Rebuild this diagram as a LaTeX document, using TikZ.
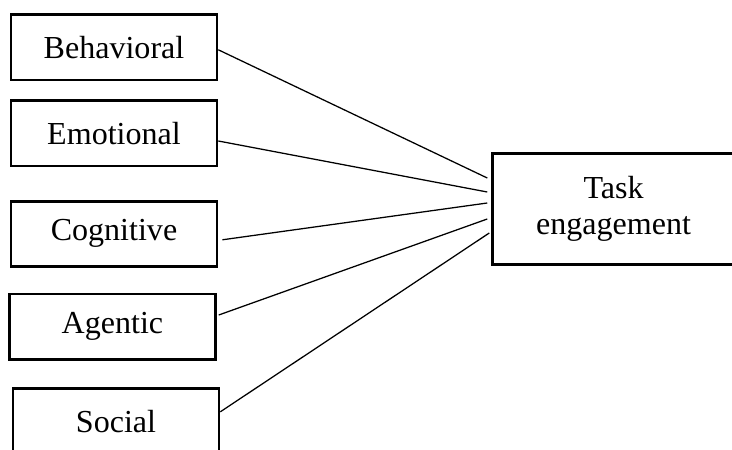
\documentclass[tikz,border=0pt]{standalone}
\usepackage{fontspec}
\setmainfont{Liberation Serif}
\begin{document}
\begin{tikzpicture}[
		dim/.style={rectangle,draw=black,line width=1.9pt,minimum width=5.15cm,minimum height=1.63cm,inner sep=0pt,font=\fontsize{22.8}{25.6}\selectfont},
		link/.style={line width=0.9pt}]
		\useasboundingbox (0,0) rectangle (18.3,11.225);
		\node[dim] (beh) at (2.85,10.04) {Behavioral};
		\node[dim] (emo) at (2.85,7.89) {Emotional};
		\node[dim] (cog) at (2.85,5.38) {Cognitive};
		\node[dim] (age) at (2.81,3.06) {Agentic};
		\node[dim] (soc) at (2.90,0.69) {Social};
		\node[dim,minimum width=6.05cm,minimum height=2.76cm,align=center] (task) at (15.34,6.0) {\rule{0pt}{0.3cm}Task\\engagement};
		% end points just left of the outcome box
		\coordinate (t1) at ([xshift=-0.1cm,yshift=0.775cm]task.west);
		\coordinate (t2) at ([xshift=-0.1cm,yshift=0.425cm]task.west);
		\coordinate (t3) at ([xshift=-0.1cm,yshift=0.15cm]task.west);
		\coordinate (t4) at ([xshift=-0.1cm,yshift=-0.25cm]task.west);
		\coordinate (t5) at ([xshift=-0.05cm,yshift=-0.6cm]task.west);
		\draw[link] ([yshift=-0.06cm]beh.east) -- (t1);
		\draw[link] ([yshift=-0.19cm]emo.east) -- (t2);
		\draw[link] ([xshift=0.1cm,yshift=-0.15cm]cog.east) -- (t3);
		\draw[link] ([xshift=0.05cm,yshift=0.29cm]age.east) -- (t4);
		\draw[link] ([yshift=0.24cm]soc.east) -- (t5);
	\end{tikzpicture}
\end{document}
